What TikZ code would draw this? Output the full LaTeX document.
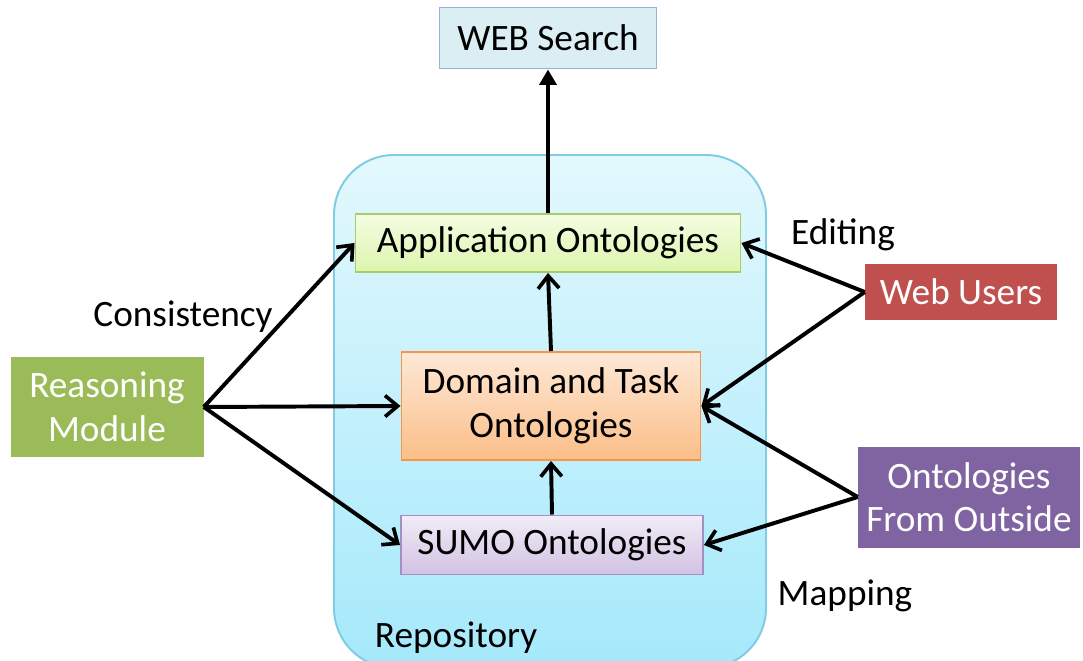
\documentclass[tikz,border=0pt]{standalone}
\usepackage{fontspec}
\setmainfont{Carlito}
\usepackage{xcolor}
\usepackage{tikz}
\usetikzlibrary{arrows.meta}

\definecolor{repoTop}{HTML}{E3F8FD}
\definecolor{repoBot}{HTML}{A5E9FB}
\definecolor{repoLine}{HTML}{7FCCE3}
\definecolor{webFill}{HTML}{DBEEF4}
\definecolor{webLine}{HTML}{95B3D7}
\definecolor{appTop}{HTML}{F4FCE2}
\definecolor{appBot}{HTML}{DDF5AE}
\definecolor{appLine}{HTML}{A9CB68}
\definecolor{domTop}{HTML}{FEE8D6}
\definecolor{domBot}{HTML}{FBBE88}
\definecolor{domLine}{HTML}{F79646}
\definecolor{sumoTop}{HTML}{F1ECF7}
\definecolor{sumoBot}{HTML}{D1C2E3}
\definecolor{sumoLine}{HTML}{A48FC2}
\definecolor{reasonFill}{HTML}{9BBB59}
\definecolor{userFill}{HTML}{C0504D}
\definecolor{outFill}{HTML}{8064A2}

\tikzset{
  inbox/.style={draw, line width=1.4pt, inner sep=0pt, align=center, font=\fontsize{26.5}{31}\selectfont},
  outbox/.style={inner sep=0pt, align=center, text=white, font=\fontsize{26.5}{31}\selectfont},
  flow/.style={line width=2.8pt, -{Straight Barb[length=9pt,width=15pt,line width=2.6pt]}},
  lbl/.style={font=\fontsize{26.5}{31}\selectfont}
}

\begin{document}
\begin{tikzpicture}[x=0.025cm, y=-0.025cm]
\clip (0,0) rectangle (1083,661);
% repository
\draw[line width=1.4pt, repoLine, top color=repoTop, bottom color=repoBot, rounded corners=1.5cm]
  (334,155) rectangle (766,668);
\node[lbl, anchor=west] (repo) at (370,638) {Repository};

% boxes inside
\node[inbox, draw=webLine, fill=webFill, minimum width=217*0.025cm, minimum height=61*0.025cm]
  (web) at (548,38) {WEB Search};
\node[inbox, draw=appLine, top color=appTop, bottom color=appBot, minimum width=385*0.025cm, minimum height=58*0.025cm]
  (app) at (548,243) {Application Ontologies};
\node[inbox, draw=domLine, top color=domTop, bottom color=domBot, minimum width=299*0.025cm, minimum height=108*0.025cm]
  (dom) at (551,406) {Domain and Task\\Ontologies};
\node[inbox, draw=sumoLine, top color=sumoTop, bottom color=sumoBot, minimum width=302*0.025cm, minimum height=59*0.025cm]
  (sumo) at (552,545) {SUMO Ontologies};

% outside boxes
\node[outbox, fill=reasonFill, minimum width=193*0.025cm, minimum height=100*0.025cm]
  (reason) at (107,407) {Reasoning\\Module};
\node[outbox, fill=userFill, minimum width=192*0.025cm, minimum height=56*0.025cm]
  (users) at (961,292) {Web Users};
\node[outbox, fill=outFill, minimum width=222*0.025cm, minimum height=101*0.025cm]
  (outside) at (969,497) {Ontologies\\From Outside};

% labels
\node[lbl] (cons) at (183,317) {Consistency};
\node[lbl] (edit) at (843,235) {Editing};
\node[lbl] (map) at (845,596) {Mapping};

% connectors
\draw[line width=2.8pt, -{Triangle[length=11pt,width=12pt]}] (app.north) -- (web.south);
\draw[flow] (dom.north) -- (app.south);
\draw[flow] (sumo.north) -- (dom.south);
\draw[flow] (reason.east) -- (app.west);
\draw[flow] (reason.east) -- (dom.west);
\draw[flow] (reason.east) -- (sumo.west);
\draw[flow] (users.west) -- (app.east);
\draw[flow] (users.west) -- (dom.east);
\draw[flow] (outside.west) -- (dom.east);
\draw[flow] (outside.west) -- (sumo.east);
\end{tikzpicture}
\end{document}
